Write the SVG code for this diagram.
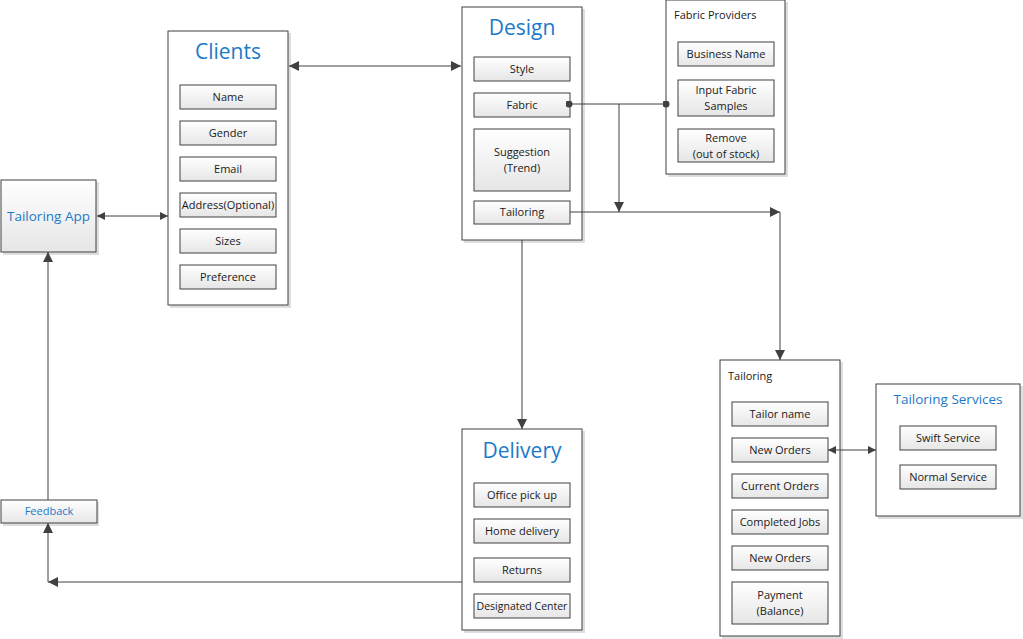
<svg xmlns="http://www.w3.org/2000/svg" width="1023" height="639" viewBox="0 0 1023 639">
<defs>
<linearGradient id="g" x1="0" y1="0" x2="0" y2="1"><stop offset="0" stop-color="#ffffff"/><stop offset="1" stop-color="#e6e6e6"/></linearGradient>
<marker id="a" viewBox="0 0 10 10" refX="10" refY="5" markerWidth="10" markerHeight="10" markerUnits="userSpaceOnUse" orient="auto-start-reverse"><path d="M0,0 L10,5 L0,10 Z" fill="#404040"/></marker>
<marker id="as" viewBox="0 0 10 10" refX="10" refY="5" markerWidth="8" markerHeight="8" markerUnits="userSpaceOnUse" orient="auto-start-reverse"><path d="M0,0 L10,5 L0,10 Z" fill="#404040"/></marker>
<marker id="d" viewBox="0 0 10 10" refX="5" refY="5" markerWidth="7" markerHeight="7" markerUnits="userSpaceOnUse"><circle cx="5" cy="5" r="5" fill="#404040"/></marker>
</defs>
<style>
.c{fill:#fff;stroke:#404040;stroke-width:1}
.sh{fill:#dedede}
.i{fill:url(#g);stroke:#404040;stroke-width:1}
.t{font-family:"Open Sans","Noto Sans",sans-serif;font-size:11px;fill:#1a1a1a;text-anchor:middle}
.h{font-family:"Open Sans","Noto Sans",sans-serif;font-size:21px;fill:#1b7ac8;text-anchor:middle}
.hs{font-family:"Open Sans","Noto Sans",sans-serif;font-size:13.5px;fill:#1b7ac8;text-anchor:middle}
.l{fill:none;stroke:#404040;stroke-width:1}
</style>
<g id="tailoring-app">
<rect class="sh" x="3" y="182" width="96" height="73"/>
<rect class="i" x="1" y="180" width="95" height="72"/>
<text class="hs" x="48.5" y="221">Tailoring App</text>
</g>
<g id="feedback">
<rect class="sh" x="3" y="502" width="96" height="24"/>
<rect class="i" x="1" y="500" width="96" height="23"/>
<text class="t" x="49" y="515" style="fill:#1b7ac8">Feedback</text>
</g>
<g id="clients">
<rect class="sh" x="170" y="33" width="121" height="275"/>
<rect class="c" x="168" y="31" width="120" height="274"/>
<text class="h" x="228" y="59">Clients</text>
<rect class="i" x="180" y="85" width="96" height="24"/><text class="t" x="228" y="101">Name</text>
<rect class="i" x="180" y="121" width="96" height="24"/><text class="t" x="228" y="137">Gender</text>
<rect class="i" x="180" y="157" width="96" height="24"/><text class="t" x="228" y="173">Email</text>
<rect class="i" x="180" y="193" width="96" height="24"/><text class="t" x="228" y="209">Address(Optional)</text>
<rect class="i" x="180" y="229" width="96" height="24"/><text class="t" x="228" y="245">Sizes</text>
<rect class="i" x="180" y="265" width="96" height="24"/><text class="t" x="228" y="281">Preference</text>
</g>
<g id="design">
<rect class="sh" x="464" y="9" width="121" height="234"/>
<rect class="c" x="462" y="7" width="120" height="233"/>
<text class="h" x="522" y="35">Design</text>
<rect class="i" x="474" y="57" width="96" height="24"/><text class="t" x="522" y="73">Style</text>
<rect class="i" x="474" y="93" width="96" height="24"/><text class="t" x="522" y="109">Fabric</text>
<rect class="i" x="474" y="129" width="96" height="62"/><text class="t" x="522" y="156">Suggestion</text><text class="t" x="522" y="172">(Trend)</text>
<rect class="i" x="474" y="201" width="96" height="23"/><text class="t" x="522" y="216">Tailoring</text>
</g>
<g id="fabric-providers">
<rect class="sh" x="668" y="2" width="120" height="175"/>
<rect class="c" x="666" y="0" width="119" height="174"/>
<text class="t" x="674" y="19" style="text-anchor:start">Fabric Providers</text>
<rect class="i" x="678" y="42" width="96" height="24"/><text class="t" x="726" y="58">Business Name</text>
<rect class="i" x="678" y="80" width="96" height="36"/><text class="t" x="726" y="94">Input Fabric</text><text class="t" x="726" y="110">Samples</text>
<rect class="i" x="678" y="129" width="96" height="33"/><text class="t" x="726" y="142">Remove</text><text class="t" x="726" y="158">(out of stock)</text>
</g>
<g id="delivery">
<rect class="sh" x="464" y="431" width="121" height="202"/>
<rect class="c" x="462" y="429" width="120" height="201"/>
<text class="h" x="522" y="458">Delivery</text>
<rect class="i" x="474" y="483" width="96" height="24"/><text class="t" x="522" y="499">Office pick up</text>
<rect class="i" x="474" y="519" width="96" height="24"/><text class="t" x="522" y="535">Home delivery</text>
<rect class="i" x="474" y="558" width="96" height="24"/><text class="t" x="522" y="574">Returns</text>
<rect class="i" x="474" y="594" width="96" height="24"/><text class="t" x="522" y="610" style="font-size:10.5px">Designated Center</text>
</g>
<g id="tailoring">
<rect class="sh" x="722" y="362" width="121" height="277"/>
<rect class="c" x="720" y="360" width="120" height="276"/>
<text class="t" x="728" y="380" style="text-anchor:start">Tailoring</text>
<rect class="i" x="732" y="402" width="96" height="24"/><text class="t" x="780" y="418">Tailor name</text>
<rect class="i" x="732" y="438" width="96" height="24"/><text class="t" x="780" y="454">New Orders</text>
<rect class="i" x="732" y="474" width="96" height="24"/><text class="t" x="780" y="490">Current Orders</text>
<rect class="i" x="732" y="510" width="96" height="24"/><text class="t" x="780" y="526">Completed Jobs</text>
<rect class="i" x="732" y="546" width="96" height="24"/><text class="t" x="780" y="562">New Orders</text>
<rect class="i" x="732" y="582" width="96" height="42"/><text class="t" x="780" y="599">Payment</text><text class="t" x="780" y="615">(Balance)</text>
</g>
<g id="tailoring-services">
<rect class="sh" x="878" y="386" width="145" height="133"/>
<rect class="c" x="876" y="384" width="144" height="132"/>
<text class="hs" x="948" y="404">Tailoring Services</text>
<rect class="i" x="900" y="426" width="96" height="24"/><text class="t" x="948" y="442">Swift Service</text>
<rect class="i" x="900" y="465" width="96" height="24"/><text class="t" x="948" y="481">Normal Service</text>
</g>
<g id="connectors">
<path class="l" d="M289,66 H461" marker-start="url(#a)" marker-end="url(#a)"/>
<path class="l" d="M97,216 H168" marker-start="url(#as)" marker-end="url(#as)"/>
<path class="l" d="M48,500 V252" marker-end="url(#a)"/>
<path class="l" d="M462,582 H48" marker-end="url(#a)"/>
<path class="l" d="M48,582 V523" marker-end="url(#a)"/>
<path class="l" d="M522,240 V429" marker-end="url(#a)"/>
<path class="l" d="M569,104 H666" marker-start="url(#d)" marker-end="url(#d)"/>
<path class="l" d="M619,104 V212" marker-end="url(#a)"/>
<path class="l" d="M570,212 H780" marker-end="url(#a)"/>
<path class="l" d="M780,212 V360" marker-end="url(#a)"/>
<path class="l" d="M828,450 H876" marker-start="url(#as)" marker-end="url(#as)"/>
</g>
</svg>
